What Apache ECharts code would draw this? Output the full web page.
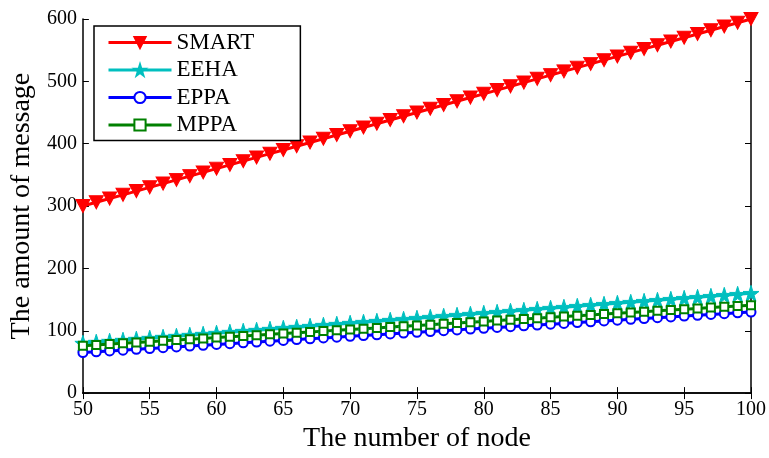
<!DOCTYPE html>
<html>
<head>
<meta charset="utf-8">
<script src="https://cdn.jsdelivr.net/npm/echarts@6/dist/echarts.min.js"></script>
<style>html,body{margin:0;padding:0;background:#fff;overflow:hidden}#c{width:769px;height:458px}</style>
</head>
<body>
<div id="c"></div>
<script>
var nodes = [50,51,52,53,54,55,56,57,58,59,60,61,62,63,64,65,66,67,68,69,70,71,72,73,74,75,76,77,78,79,80,81,82,83,84,85,86,87,88,89,90,91,92,93,94,95,96,97,98,99,100];
var smart = [300,306,312,318,324,330,336,342,348,354,360,366,372,378,384,390,396,402,408,414,420,426,432,438,444,450,456,462,468,474,480,486,492,498,504,510,516,522,528,534,540,546,552,558,564,570,576,582,588,594,600];
var eeha = [80,81.6,83.2,84.8,86.4,88,89.6,91.2,92.8,94.4,96,97.6,99.2,100.8,102.4,104,105.6,107.2,108.8,110.4,112,113.6,115.2,116.8,118.4,120,121.6,123.2,124.8,126.4,128,129.6,131.2,132.8,134.4,136,137.6,139.2,140.8,142.4,144,145.6,147.2,148.8,150.4,152,153.6,155.2,156.8,158.4,160];
var eppa = [65,66.3,67.6,68.9,70.2,71.5,72.8,74.1,75.4,76.7,78,79.3,80.6,81.9,83.2,84.5,85.8,87.1,88.4,89.7,91,92.3,93.6,94.9,96.2,97.5,98.8,100.1,101.4,102.7,104,105.3,106.6,107.9,109.2,110.5,111.8,113.1,114.4,115.7,117,118.3,119.6,120.9,122.2,123.5,124.8,126.1,127.4,128.7,130];
var mppa = [76,77.3,78.6,79.9,81.2,82.5,83.8,85.1,86.4,87.7,89,90.3,91.6,92.9,94.2,95.5,96.8,98.1,99.4,100.7,102,103.3,104.6,105.9,107.2,108.5,109.8,111.1,112.4,113.7,115,116.3,117.6,118.9,120.2,121.5,122.8,124.1,125.4,126.7,128,129.3,130.6,131.9,133.2,134.5,135.8,137.1,138.4,139.7,141];
var xTicks = [50,55,60,65,70,75,80,85,90,95,100];
var yTicks = [0,100,200,300,400,500,600];

function pairs(v){ return nodes.map(function(x,i){ return [x, v[i]]; }); }
var FONT = '"Liberation Serif","DejaVu Serif",serif';
var star = 'path://M50,0 L61.2,34.5 L97.6,34.5 L68.2,55.9 L79.4,90.5 L50,69.1 L20.6,90.5 L31.8,55.9 L2.4,34.5 L38.8,34.5 Z';

var chart = echarts.init(document.getElementById('c'), null, {renderer:'canvas', width:769, height:458});
var axisLine = {show:true, lineStyle:{color:'#000', width:1.5}};
var tick = {show:true, inside:true, length:6, lineStyle:{color:'#000', width:1}};
chart.setOption({
  animation:false,
  backgroundColor:'#fff',
  grid:{left:82, top:19, width:670, height:386, containLabel:false},
  legend:{
    orient:'vertical', left:94, top:26,
    backgroundColor:'#fff', borderColor:'#000', borderWidth:1.5,
    padding:[5,46,4,13],
    itemWidth:63, itemHeight:14, itemGap:4.5,
    lineStyle:{width:3},
    textStyle:{fontFamily:FONT, fontSize:23, color:'#000', lineHeight:23, padding:[0,0,0,0]},
    data:['SMART','EEHA','EPPA','MPPA']
  },
  xAxis:[{
    type:'value', min:50, max:100, interval:5,
    name:'The number of node', nameLocation:'middle', nameGap:23,
    nameTextStyle:{fontFamily:FONT, fontSize:28, color:'#000'},
    axisLine:axisLine, axisTick:tick, splitLine:{show:false},
    axisLabel:{fontFamily:FONT, fontSize:20, color:'#000', margin:7,
      formatter:function(v){ return xTicks.indexOf(v)>=0 ? String(v) : ''; }}
  },{
    type:'value', min:50, max:100, interval:5, position:'top',
    axisLine:axisLine, axisTick:tick, axisLabel:{show:false}, splitLine:{show:false}
  }],
  yAxis:[{
    type:'value', min:0, max:600, interval:100,
    name:'The amount of message', nameLocation:'middle', nameGap:46,
    nameTextStyle:{fontFamily:FONT, fontSize:28, color:'#000'},
    axisLine:axisLine, axisTick:tick, splitLine:{show:false},
    axisLabel:{fontFamily:FONT, fontSize:20, color:'#000', margin:6,
      formatter:function(v){ return yTicks.indexOf(v)>=0 ? String(v) : ''; }}
  },{
    type:'value', min:0, max:600, interval:100, position:'right',
    axisLine:axisLine, axisTick:tick, axisLabel:{show:false}, splitLine:{show:false}
  }],
  series:[
    {name:'SMART', type:'line', data:pairs(smart), symbol:'triangle', symbolRotate:180, symbolSize:[14,13],
     lineStyle:{color:'#ff0000', width:3}, itemStyle:{color:'#ff0000', borderColor:'#ff0000', borderWidth:1}},
    {name:'EEHA', type:'line', data:pairs(eeha), symbol:star, symbolSize:16,
     lineStyle:{color:'#00bfbf', width:3}, itemStyle:{color:'#00bfbf', borderColor:'#00bfbf', borderWidth:1}},
    {name:'EPPA', type:'line', data:pairs(eppa), symbol:'emptyCircle', symbolSize:9,
     lineStyle:{color:'#0000ff', width:3}, itemStyle:{color:'#0000ff', borderColor:'#0000ff', borderWidth:2.5}},
    {name:'MPPA', type:'line', data:pairs(mppa), symbol:'emptyRect', symbolSize:8,
     lineStyle:{color:'#008000', width:3}, itemStyle:{color:'#008000', borderColor:'#008000', borderWidth:2.5}}
  ]
});
</script>
</body>
</html>
